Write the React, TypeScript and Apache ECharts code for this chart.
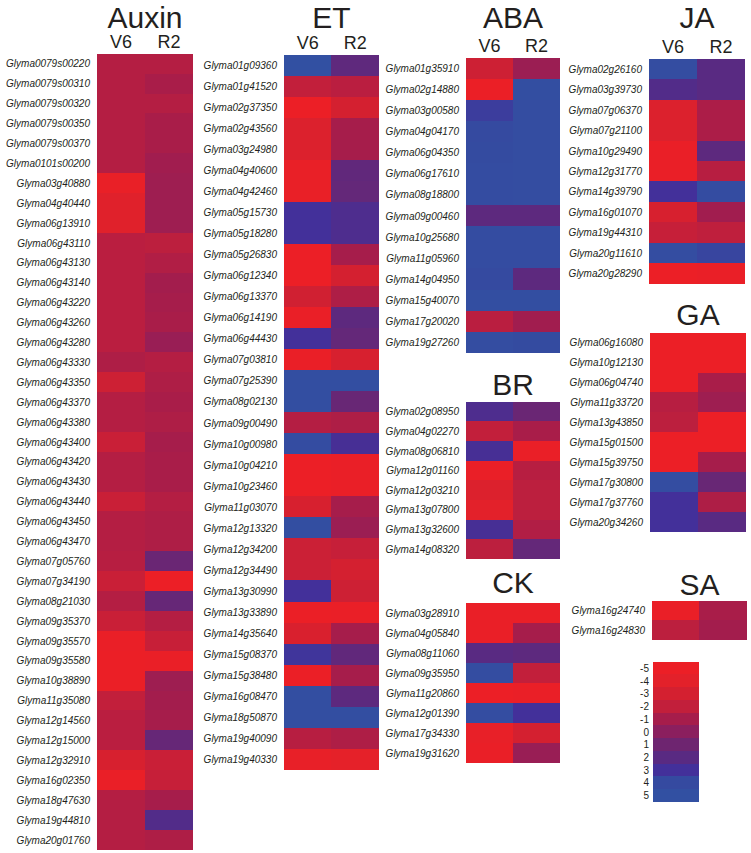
import React, { useEffect, useRef } from 'react';
import * as echarts from 'echarts';

const columns = ['V6', 'R2'];

const auxinGenes = ['Glyma0079s00220','Glyma0079s00310','Glyma0079s00320','Glyma0079s00350','Glyma0079s00370','Glyma0101s00200','Glyma03g40880','Glyma04g40440','Glyma06g13910','Glyma06g43110','Glyma06g43130','Glyma06g43140','Glyma06g43220','Glyma06g43260','Glyma06g43280','Glyma06g43330','Glyma06g43350','Glyma06g43370','Glyma06g43380','Glyma06g43400','Glyma06g43420','Glyma06g43430','Glyma06g43440','Glyma06g43450','Glyma06g43470','Glyma07g05760','Glyma07g34190','Glyma08g21030','Glyma09g35370','Glyma09g35570','Glyma09g35580','Glyma10g38890','Glyma11g35080','Glyma12g14560','Glyma12g15000','Glyma12g32910','Glyma16g02350','Glyma18g47630','Glyma19g44810','Glyma20g01760'];
const auxinV6 = [-1.5,-1.5,-1.5,-1.5,-1.5,-1.5,-4.7,-3.8,-3.8,-1.7,-1.7,-1.7,-1.7,-1.7,-1.7,-1.3,-2.6,-1.5,-1.5,-2.4,-1.5,-1.5,-2.4,-1.5,-1.5,-1.6,-2.4,-1.5,-2.4,-4.8,-4.9,-4.9,-2,-1.7,-1.7,-3.2,-4.8,-1.5,-1.5,-1.5];
const auxinR2 = [-1.5,-1.1,-1.5,-1.1,-1.1,-0.8,-0.7,-0.7,-0.7,-1.8,-1.4,-0.9,-1,-1.1,-0.5,-1.5,-1.3,-1.1,-1.3,-1,-1.1,-1.1,-1.5,-1.3,-1.3,1.2,-5,1.4,-1.5,-2.3,-4.8,-0.7,-0.9,-1,1.4,-2.4,-2.2,-1,2.3,-1.3];

const etGenes = ['Glyma01g09360','Glyma01g41520','Glyma02g37350','Glyma02g43560','Glyma03g24980','Glyma04g40600','Glyma04g42460','Glyma05g15730','Glyma05g18280','Glyma05g26830','Glyma06g12340','Glyma06g13370','Glyma06g14190','Glyma06g44430','Glyma07g03810','Glyma07g25390','Glyma08g02130','Glyma09g00490','Glyma10g00980','Glyma10g04210','Glyma10g23460','Glyma11g03070','Glyma12g13320','Glyma12g34200','Glyma12g34490','Glyma13g30990','Glyma13g33890','Glyma14g35640','Glyma15g08370','Glyma15g38480','Glyma16g08470','Glyma18g50870','Glyma19g40090','Glyma19g40330'];
const etV6 = [5,-2,-5,-3.5,-3.5,-4.7,-4.7,3,3,-5,-5,-2.8,-4.8,3,-4.8,4.6,4.6,-1.5,4.4,-5,-5,-3.2,4.6,-2.5,-2.5,3,-4.9,-3.3,3.2,-4.9,4.6,4.6,-1.6,-4.6];
const etR2 = [1.7,-1.7,-3,-1,-1,1.6,1.5,2.5,2.5,-1,-3,-1.3,1.8,1.5,-3.2,4.6,1.3,-1.3,2.8,-4.8,-4.8,-1,-0.6,-2.2,-3,-2.6,-4.8,-1,1.6,-1,1.8,4.6,-1.3,-4.2];

const abaGenes = ['Glyma01g35910','Glyma02g14880','Glyma03g00580','Glyma04g04170','Glyma06g04350','Glyma06g17610','Glyma08g18800','Glyma09g00460','Glyma10g25680','Glyma11g05960','Glyma14g04950','Glyma15g40070','Glyma17g20020','Glyma19g27260'];
const abaV6 = [-2.6,-4.9,3.5,4,4.2,4.4,4.4,1.8,4.3,4.3,4,4.6,-1.7,4.5];
const abaR2 = [-0.6,4.6,4.5,4.5,4.5,4.5,4.5,1.8,4.4,4.4,1.8,4.6,-0.8,4.2];

const brGenes = ['Glyma02g08950','Glyma04g02270','Glyma08g06810','Glyma12g01160','Glyma12g03210','Glyma13g07800','Glyma13g32600','Glyma14g08320'];
const brV6 = [2.5,-2,2.8,-4.8,-3.5,-4,2.8,-1.8];
const brR2 = [1.2,-1.1,-4.8,-1.6,-1.8,-1.8,-1.4,1.5];

const ckGenes = ['Glyma03g28910','Glyma04g05840','Glyma08g11060','Glyma09g35950','Glyma11g20860','Glyma12g01390','Glyma17g34330','Glyma19g31620'];
const ckV6 = [-4.8,-4.8,2,4.5,-5,4.5,-4.5,-4.8];
const ckR2 = [-4.8,-1,1.8,-2,-4.8,3,-3,-0.5];

const jaGenes = ['Glyma02g26160','Glyma03g39730','Glyma07g06370','Glyma07g21100','Glyma10g29490','Glyma12g31770','Glyma14g39790','Glyma16g01070','Glyma19g44310','Glyma20g11610','Glyma20g28290'];
const jaV6 = [4.5,2.3,-3.5,-3.5,-4.8,-4.8,3,-3.2,-2.2,4.5,-5];
const jaR2 = [2,2,-1.2,-1.2,1.8,-1.6,4.3,-0.8,-1.9,3.8,-4.8];

const gaGenes = ['Glyma06g16080','Glyma10g12130','Glyma06g04740','Glyma11g33720','Glyma13g43850','Glyma15g01500','Glyma15g39750','Glyma17g30800','Glyma17g37760','Glyma20g34260'];
const gaV6 = [-5,-5,-5,-1.6,-1.8,-5,-5,4.5,3,3];
const gaR2 = [-5,-5,-1.1,-0.7,-5,-5,-1,1.3,-1.3,2];

const saGenes = ['Glyma16g24740','Glyma16g24830'];
const saV6 = [-4.8,-1.8];
const saR2 = [-1.1,-0.9];

const legendLevels = ['-5','-4','-3','-2','-1','0','1','2','3','4','5'];
const legendValues = [-5,-4,-3,-2,-1,0,1,2,3,4,5];

const scaleColors = ['#EC1F26','#E3212A','#D42030','#C21F3B','#A61D4B','#8B1F5E','#6E2570','#592A82','#43309A','#354AA0','#3250A2'];

const panels = [
  { title: 'Auxin', genes: auxinGenes, v6: auxinV6, r2: auxinR2, showCols: true, left: 97, top: 54, width: 96, height: 796, ty: 17 },
  { title: 'ET', genes: etGenes, v6: etV6, r2: etR2, showCols: true, left: 284, top: 55, width: 95, height: 715, ty: 17 },
  { title: 'ABA', genes: abaGenes, v6: abaV6, r2: abaR2, showCols: true, left: 466, top: 58, width: 94, height: 295, ty: 17 },
  { title: 'BR', genes: brGenes, v6: brV6, r2: brR2, showCols: false, left: 466, top: 402, width: 94, height: 157, ty: 384 },
  { title: 'CK', genes: ckGenes, v6: ckV6, r2: ckR2, showCols: false, left: 466, top: 603, width: 94, height: 160, ty: 582 },
  { title: 'JA', genes: jaGenes, v6: jaV6, r2: jaR2, showCols: true, left: 649, top: 59, width: 96, height: 225, ty: 17 },
  { title: 'GA', genes: gaGenes, v6: gaV6, r2: gaR2, showCols: false, left: 650, top: 333, width: 96, height: 199, ty: 314 },
  { title: 'SA', genes: saGenes, v6: saV6, r2: saR2, showCols: false, left: 652, top: 601, width: 95, height: 39, ty: 584 },
];

const FONT = '"Liberation Sans", Arial, sans-serif';

export default function App() {
  const ref = useRef<HTMLDivElement>(null);
  useEffect(() => {
    if (!ref.current) return;
    const chart = echarts.init(ref.current, null, { renderer: 'svg' });
    const grids: any[] = [];
    const xAxes: any[] = [];
    const yAxes: any[] = [];
    const series: any[] = [];
    const graphics: any[] = [];
    panels.forEach((p, i) => {
      grids.push({ left: p.left, top: p.top, width: p.width, height: p.height, containLabel: false });
      xAxes.push({
        gridIndex: i, type: 'category', data: columns, position: 'top',
        axisLine: { show: false }, axisTick: { show: false }, splitLine: { show: false },
        axisLabel: { show: p.showCols, fontSize: 18, color: '#231F20', margin: 3, fontFamily: FONT },
      });
      yAxes.push({
        gridIndex: i, type: 'category', data: p.genes, inverse: true,
        axisLine: { show: false }, axisTick: { show: false }, splitLine: { show: false },
        axisLabel: { fontSize: 10, fontStyle: 'italic', color: '#231F20', margin: 7, fontFamily: FONT, interval: 0 },
      });
      const data: number[][] = [];
      p.genes.forEach((_, j) => {
        data.push([0, j, p.v6[j]]);
        data.push([1, j, p.r2[j]]);
      });
      series.push({ type: 'heatmap', xAxisIndex: i, yAxisIndex: i, data, itemStyle: { borderWidth: 0 } });
      graphics.push({
        type: 'text', x: p.left + p.width / 2, y: p.ty,
        style: { text: p.title, font: `30px ${FONT}`, fill: '#231F20', textAlign: 'center', textVerticalAlign: 'middle' },
      });
    });
    const li = panels.length;
    grids.push({ left: 653, top: 662, width: 46, height: 140 });
    xAxes.push({ gridIndex: li, type: 'category', data: [''], axisLine: { show: false }, axisTick: { show: false }, axisLabel: { show: false } });
    yAxes.push({
      gridIndex: li, type: 'category', data: legendLevels, inverse: true,
      axisLine: { show: false }, axisTick: { show: false },
      axisLabel: { fontSize: 10, color: '#231F20', margin: 4, fontFamily: FONT, interval: 0 },
    });
    series.push({ type: 'heatmap', xAxisIndex: li, yAxisIndex: li, data: legendValues.map((v, j) => [0, j, v]) });

    chart.setOption({
      animation: false,
      backgroundColor: '#ffffff',
      grid: grids,
      xAxis: xAxes,
      yAxis: yAxes,
      visualMap: { type: 'continuous', min: -5, max: 5, show: false, inRange: { color: scaleColors }, seriesIndex: series.map((_, k) => k) },
      series,
      graphic: graphics,
    });
    return () => chart.dispose();
  }, []);
  return (
    <>
      <style>{'.hm svg path, .hm svg rect { shape-rendering: crispEdges; }'}</style>
      <div className="hm" ref={ref} style={{ position: 'fixed', left: 0, top: 0, width: 751, height: 853 }} />
    </>
  );
}
